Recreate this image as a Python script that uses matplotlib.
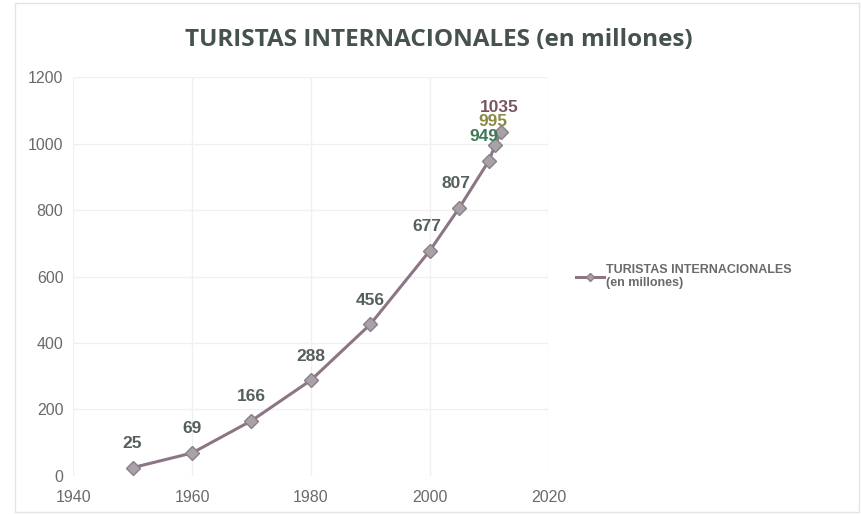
import numpy as np
import matplotlib.pyplot as plt
from matplotlib.patches import Rectangle

# turistas internacionales (millones) por año
years = [1950, 1960, 1970, 1980, 1990, 2000, 2005, 2010, 2011, 2012]
tourists = [25, 69, 166, 288, 456, 677, 807, 949, 995, 1035]
label_colors = ['#55605c'] * 7 + ['#3f7a55', '#8a8a45', '#7a5560']
label_dx = [0, 0, 0, 0, 0, -0.5, -0.5, -0.8, -0.3, -0.3]

plt.rcParams['font.family'] = ['Liberation Sans', 'DejaVu Sans']

fig = plt.figure(figsize=(8.61, 5.14), dpi=100)
ax = fig.add_axes([0.085, 0.074, 0.552, 0.776])

ax.plot(years, tourists, color='#8c7585', lw=2.2, marker='D', ms=7,
        mfc='#a8a2a8', mec='#8a8088', mew=1, zorder=3,
        label='TURISTAS INTERNACIONALES\n(en millones)')

for x, y, c, dx in zip(years, tourists, label_colors, label_dx):
    ax.annotate(str(y), (x + dx, y), xytext=(0, 12), textcoords='offset points',
                ha='center', va='bottom', fontsize=12.5, fontweight='bold', color=c)

ax.set_xlim(1940, 2020)
ax.set_ylim(0, 1200)
ax.set_xticks(np.arange(1940, 2021, 20))
ax.set_yticks(np.arange(0, 1201, 200))
ax.grid(True, color='#f0f0f0', lw=1)
ax.set_axisbelow(True)
for s in ax.spines.values():
    s.set_visible(False)
ax.tick_params(length=0, labelsize=11.5, labelcolor='#6a6a6a', pad=10)
ax.tick_params(axis='y', pad=7)

fig.text(0.51, 0.922, 'TURISTAS INTERNACIONALES (en millones)', ha='center',
         va='center', fontsize=17.5, fontweight='bold', color='#46524c',
         family=['Open Sans', 'DejaVu Sans'])

leg = ax.legend(loc='center left', bbox_to_anchor=(1.035, 0.5), frameon=False,
                handlelength=2.2, handletextpad=0.2, markerscale=0.6,
                prop={'weight': 'bold', 'size': 9})
for t in leg.get_texts():
    t.set_color('#6a6a6a')

fig.patches.append(Rectangle((0.018, 0.004), 0.98, 0.99, transform=fig.transFigure,
                             fill=False, ec='#e4e4e4', lw=1))

fig.savefig('out.png', dpi=100)
